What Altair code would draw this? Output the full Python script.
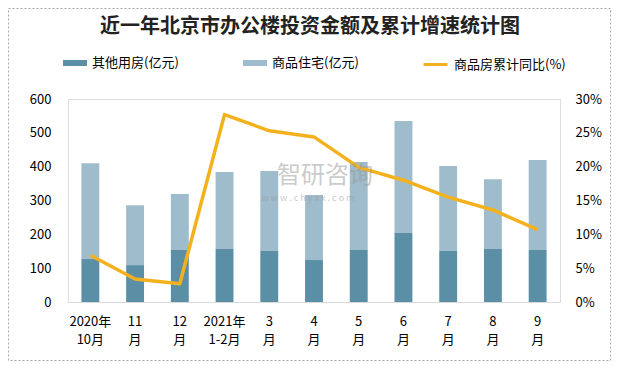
import altair as alt
import pandas as pd

months = ["2020年\n10月", "11\n月", "12\n月", "2021年\n1-2月", "3\n月", "4\n月",
          "5\n月", "6\n月", "7\n月", "8\n月", "9\n月"]
other = [127, 109, 154, 157, 151, 124, 154, 204, 151, 157, 154]
residential = [283, 177, 165, 227, 236, 192, 260, 331, 251, 206, 266]
yoy = [6.9, 3.4, 2.7, 27.7, 25.3, 24.4, 19.9, 18.0, 15.5, 13.6, 10.7]

S_OTHER = "其他用房(亿元)"
S_RES = "商品住宅(亿元)"
S_YOY = "商品房累计同比(%)"

df = pd.DataFrame({"month": months, "other": other, "res": residential, "yoy": yoy})
df["total"] = df["other"] + df["res"]
df["s_other"] = S_OTHER
df["s_res"] = S_RES
df["s_yoy"] = S_YOY

FONT = "Noto Sans CJK SC"
W, H = 492, 203

xenc = alt.X("month:N", sort=months, title=None,
             scale=alt.Scale(paddingInner=0.6, paddingOuter=0.3),
             axis=alt.Axis(labelExpr="split(datum.label, '\\n')", labelAngle=0,
                           ticks=False, domainColor="#d9d9d9", labelPadding=13,
                           labelLineHeight=18.5, labelFontSize=13, labelColor="#000",
                           labelFont=FONT))

bar_path = "M-1,-0.25H1V0.25H-1Z"

def bar_legend(lx):
    return alt.Legend(title=None, orient="none", legendX=lx, legendY=-48,
                      symbolType=bar_path, symbolSize=576, symbolStrokeWidth=0,
                      labelFontSize=13, labelFont=FONT, labelColor="#000",
                      labelOffset=5, padding=0, symbolOpacity=1)

yleft = alt.Y("other:Q", title=None,
              scale=alt.Scale(domain=[0, 600]),
              axis=alt.Axis(values=[0, 100, 200, 300, 400, 500, 600], grid=False,
                            ticks=False, domain=False, labelFontSize=13,
                            labelFont=FONT, labelColor="#000", labelPadding=17))

base = alt.Chart(df)

dark = base.mark_bar(opacity=1).encode(
    x=xenc,
    y=yleft,
    color=alt.Color("s_other:N", scale=alt.Scale(range=["#5b8fa6"]), legend=bar_legend(-5)),
)
light = base.mark_bar(opacity=1).encode(
    x=xenc,
    y=yleft,
    y2="total:Q",
    color=alt.Color("s_res:N", scale=alt.Scale(range=["#9ebccb"]), legend=bar_legend(175)),
)
bars = alt.layer(dark, light).resolve_scale(color="independent")

line = base.mark_line(strokeWidth=3.5, strokeJoin="round").encode(
    x=xenc,
    y=alt.Y("yoy:Q", title=None, scale=alt.Scale(domain=[0, 30]),
            axis=alt.Axis(orient="right", values=[0, 5, 10, 15, 20, 25, 30], grid=False,
                          ticks=False, domain=False, labelExpr="datum.value + '%'",
                          labelFontSize=13, labelFont=FONT, labelColor="#000",
                          labelPadding=15)),
    color=alt.Color("s_yoy:N", scale=alt.Scale(range=["#f3b21d"]),
                    legend=alt.Legend(title=None, orient="none", legendX=354, legendY=-48,
                                      symbolType="stroke", symbolSize=576,
                                      symbolStrokeWidth=3, labelFontSize=13,
                                      labelFont=FONT, labelColor="#000",
                                      labelOffset=5, padding=0)),
)

one = pd.DataFrame({"a": [0]})
title = alt.Chart(one).mark_text(text="近一年北京市办公楼投资金额及累计增速统计图",
                                 font=FONT, fontSize=20, fontWeight="bold",
                                 color="#222", baseline="middle", align="center").encode(
    x=alt.value(242), y=alt.value(-72))
wm1 = alt.Chart(one).mark_text(text="智研咨询", font=FONT, fontSize=24, color="#999",
                               opacity=0.5, baseline="middle", align="center").encode(
    x=alt.value(257), y=alt.value(77))
wm2 = alt.Chart(one).mark_text(text="w w w . c h y x x . c o m", font=FONT, fontSize=9,
                               color="#999", opacity=0.5, baseline="middle",
                               align="center").encode(
    x=alt.value(240), y=alt.value(99))
border = alt.Chart(one).mark_rect(fill=None, stroke="#a6a6a6", strokeDash=[2, 2],
                                  strokeWidth=1).encode(
    x=alt.value(-59.5), x2=alt.value(542.5), y=alt.value(-90.5), y2=alt.value(261.5))

chart = alt.layer(bars, line, title, wm1, wm2, border).resolve_scale(
    y="independent", color="independent"
).properties(
    width=W, height=H,
    autosize=alt.AutoSizeParams(type="none"),
    padding={"left": 60, "top": 91, "right": 51, "bottom": 59},
).configure_view(stroke=None).configure(background="white")

chart.save("out.html", embed_options={"renderer": "svg", "actions": False})
